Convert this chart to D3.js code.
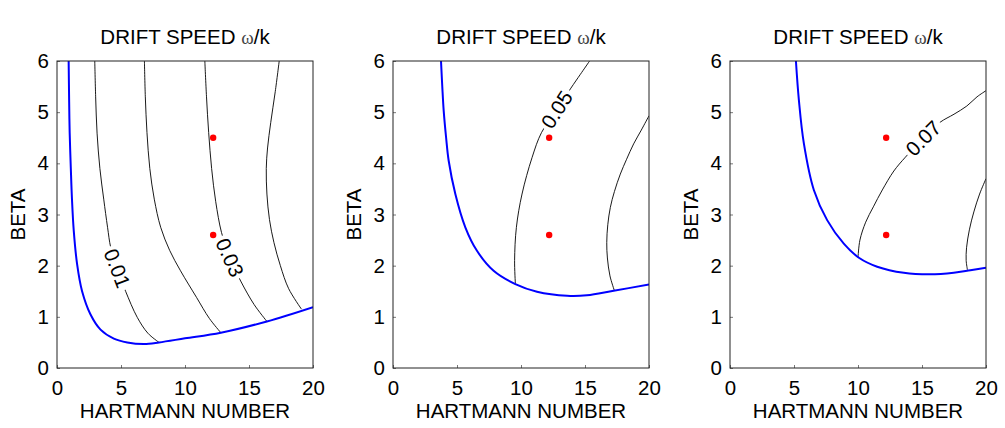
<!DOCTYPE html>
<html>
<head>
<meta charset="utf-8">
<script src="https://cdn.jsdelivr.net/npm/d3@7"></script>
<style>
  html, body { margin: 0; padding: 0; background: #fff; }
  svg { display: block; font-family: "Liberation Sans", Arial, Helvetica, sans-serif; }
</style>
</head>
<body>
<svg id="chart" width="1005" height="428"></svg>
<script>
// ---------- data ----------
const xTicks = [0, 5, 10, 15, 20];
const yTicks = [0, 1, 2, 3, 4, 5, 6];
const xLabel = "HARTMANN NUMBER";
const yLabel = "BETA";
const titleMain = "DRIFT SPEED ";
const titleSymbol = "ω";
const titleTail = "/k";

// markers (Hartmann number, beta)
const markers = [[12.2, 4.5], [12.2, 2.6]];

// panel 1
const boundary1 = [[0.91,6],[0.95,5.2],[0.99,4.6],[1.08,3.9],[1.17,3.3],[1.31,2.68],[1.57,2.03],[1.96,1.5],[2.61,1.05],[3.4,0.75],[4.44,0.575],[5.49,0.5],[6.8,0.47],[7.97,0.5],[10.0,0.58],[12.8,0.69],[16.4,0.91],[20,1.19]];
const contour1a = [[2.95,6],[3.02,5.3],[3.13,4.59],[3.35,3.9],[3.65,3.3],[3.95,2.75],[4.2,2.35],[4.7,1.93],[5.36,1.5],[6.27,0.99],[7.1,0.68],[7.97,0.5]];
const contour1b = [[6.83,6],[6.9,5.3],[7.03,4.6],[7.25,3.9],[7.6,3.3],[8.1,2.75],[8.8,2.3],[9.65,1.9],[10.9,1.38],[11.9,0.97],[12.8,0.69]];
const contour1c = [[11.55,6],[11.68,5.3],[11.85,4.6],[12.08,3.9],[12.4,3.25],[12.85,2.65],[13.5,2.15],[14.35,1.7],[15.4,1.24],[16.4,0.91]];
const contour1d = [[17.36,6],[17.05,5.4],[16.7,4.8],[16.45,4.3],[16.35,3.9],[16.4,3.4],[16.6,2.9],[16.95,2.45],[17.45,2.0],[18.1,1.55],[19.1,1.15]];
const labels1 = [{text: "0.01", x: 4.7, y: 1.95, angle: 69}, {text: "0.03", x: 13.5, y: 2.16, angle: 66}];

// panel 2
const boundary2 = [[3.75,6],[3.85,5.5],[3.96,5.03],[4.15,4.5],[4.35,4.05],[4.87,3.4],[5.65,2.75],[6.56,2.29],[7.86,1.9],[9.56,1.64],[11.25,1.49],[13.6,1.41],[15.15,1.42],[17.24,1.51],[20,1.63]];
const contour2a = [[15.36,6],[14.64,5.74],[13.9,5.47],[12.8,5.05],[11.6,4.6],[10.86,4.11],[10.08,3.4],[9.64,2.75],[9.5,2.1],[9.56,1.65]];
const contour2b = [[20,4.93],[19.4,4.65],[18.8,4.38],[18.25,4.08],[17.76,3.79],[17.3,3.45],[16.98,3.14],[16.78,2.8],[16.7,2.45],[16.75,2.15],[16.95,1.8],[17.3,1.51]];
const labels2 = [{text: "0.05", x: 12.8, y: 5.05, angle: -57}];

// panel 3
const boundary3 = [[5.15,6],[5.38,5.24],[5.77,4.39],[6.55,3.48],[7.59,2.89],[8.89,2.43],[10.1,2.15],[11.5,1.98],[13.58,1.86],[15.6,1.83],[17.48,1.86],[18.78,1.91],[20,1.96]];
const contour3a = [[20,5.42],[19.3,5.3],[18.5,5.12],[17.5,4.96],[16.4,4.8],[15.1,4.49],[13.7,4.12],[12.8,3.85],[11.9,3.48],[11.2,3.15],[10.6,2.85],[10.15,2.5],[10.0,2.16]];
const contour3b = [[20,3.7],[19.5,3.4],[19.05,3.05],[18.7,2.7],[18.48,2.35],[18.45,2.1],[18.55,1.92]];
const labels3 = [{text: "0.07", x: 15.1, y: 4.49, angle: -45}];

const panelsData = [
  {boundary: boundary1, contours: [contour1a, contour1b, contour1c, contour1d], labels: labels1},
  {boundary: boundary2, contours: [contour2a, contour2b], labels: labels2},
  {boundary: boundary3, contours: [contour3a, contour3b], labels: labels3}
];

// ---------- layout ----------
const panelLefts = [57, 393, 730];
const plotW = 256, plotTop = 61, plotBottom = 368;
const fontSize = 20.5;

const svg = d3.select("#chart");

panelsData.forEach((p, i) => {
  const left = panelLefts[i];
  const x = d3.scaleLinear().domain([0, 20]).range([left, left + plotW]);
  const y = d3.scaleLinear().domain([0, 6]).range([plotBottom, plotTop]);
  const g = svg.append("g");

  const clipId = "clip" + i;
  svg.append("defs").append("clipPath").attr("id", clipId)
    .append("rect").attr("x", left).attr("y", plotTop).attr("width", plotW).attr("height", plotBottom - plotTop);

  const line = d3.line().x(d => x(d[0])).y(d => y(d[1])).curve(d3.curveCatmullRom.alpha(0.5));
  const plot = g.append("g").attr("clip-path", `url(#${clipId})`);

  // contours
  plot.selectAll("path.contour").data(p.contours).enter().append("path")
    .attr("class", "contour")
    .attr("d", line)
    .attr("fill", "none").attr("stroke", "#000").attr("stroke-width", 0.9);

  // contour labels (white gap + text)
  p.labels.forEach(l => {
    const lg = plot.append("g")
      .attr("transform", `translate(${x(l.x)},${y(l.y)}) rotate(${l.angle})`);
    const bg = lg.append("rect").attr("fill", "#fff");
    const t = lg.append("text")
      .attr("text-anchor", "middle").attr("dy", "0.35em")
      .attr("font-size", fontSize).attr("fill", "#000")
      .text(l.text);
    const len = t.node().getComputedTextLength();
    bg.attr("x", -len / 2 - 3).attr("y", -8).attr("width", len + 6).attr("height", 16);
  });

  // boundary
  plot.append("path").datum(p.boundary)
    .attr("d", line)
    .attr("fill", "none").attr("stroke", "#0000ff").attr("stroke-width", 2);

  // markers
  plot.selectAll("circle").data(markers).enter().append("circle")
    .attr("cx", d => x(d[0])).attr("cy", d => y(d[1])).attr("r", 3.2)
    .attr("fill", "#ff0000");

  // axes
  const xAxis = d3.axisBottom(x).tickValues(xTicks).tickSize(-3).tickPadding(8).tickFormat(d3.format("d"));
  const yAxis = d3.axisLeft(y).tickValues(yTicks).tickSize(-3).tickPadding(8).tickFormat(d3.format("d"));

  const gx = g.append("g").attr("transform", `translate(0,${plotBottom})`).call(xAxis);
  const gy = g.append("g").attr("transform", `translate(${left},0)`).call(yAxis);
  [gx, gy].forEach(ax => {
    ax.select(".domain").remove();
    ax.selectAll(".tick line").attr("stroke", "#555").attr("stroke-width", 0.8);
    ax.selectAll(".tick text").attr("font-size", fontSize).attr("fill", "#000")
      .attr("font-family", "Liberation Sans, Arial, sans-serif");
  });
  gx.selectAll(".tick text").attr("dy", "0.95em");

  // frame
  g.append("rect").attr("x", left).attr("y", plotTop).attr("width", plotW).attr("height", plotBottom - plotTop)
    .attr("fill", "none").attr("stroke", "#222").attr("stroke-width", 1);

  // title
  const title = g.append("text")
    .attr("x", left + plotW / 2).attr("y", 44)
    .attr("text-anchor", "middle").attr("font-size", fontSize).attr("fill", "#000");
  title.append("tspan").text(titleMain);
  title.append("tspan").attr("font-family", "Liberation Serif, DejaVu Serif, serif").attr("font-size", 19).attr("fill", "#444").text(titleSymbol);
  title.append("tspan").text(titleTail);

  // x label
  g.append("text").attr("x", left + plotW / 2).attr("y", 418)
    .attr("text-anchor", "middle").attr("font-size", fontSize).attr("fill", "#000")
    .text(xLabel);

  // y label
  g.append("text")
    .attr("transform", `translate(${left - 32},${(plotTop + plotBottom) / 2}) rotate(-90)`)
    .attr("text-anchor", "middle").attr("font-size", fontSize).attr("fill", "#000")
    .text(yLabel);
});
</script>
</body>
</html>
